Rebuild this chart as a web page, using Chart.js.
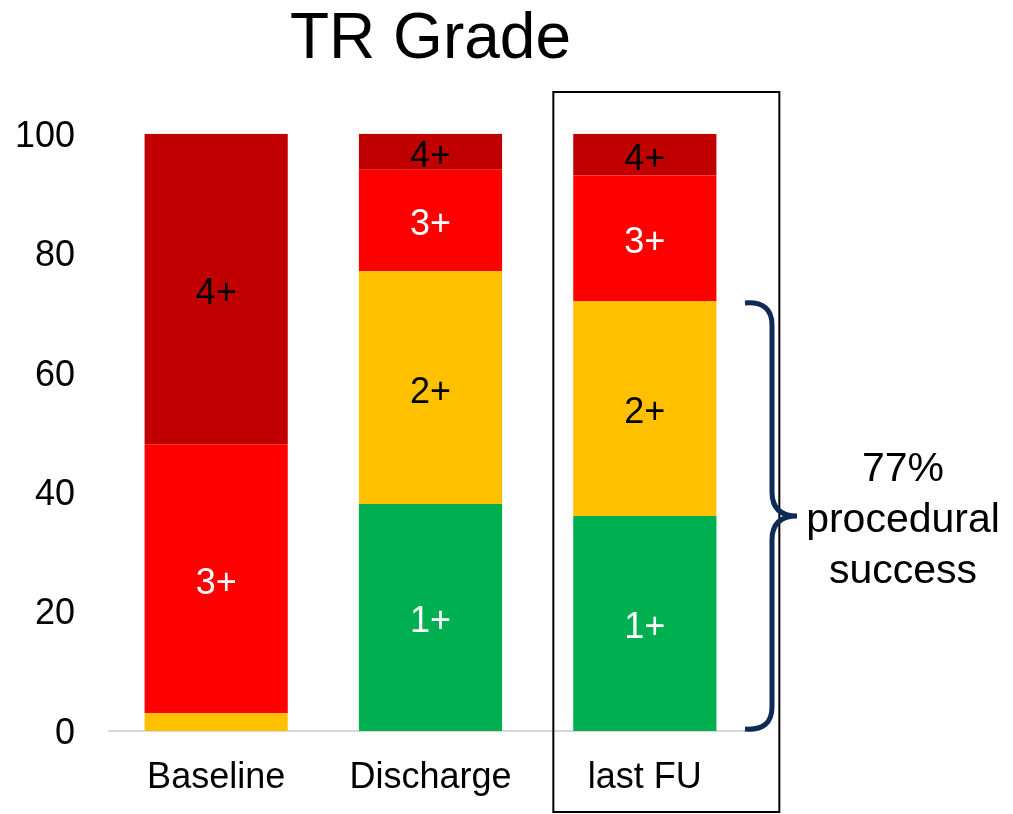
<!DOCTYPE html>
<html>
<head>
<meta charset="utf-8">
<script src="https://cdn.jsdelivr.net/npm/chart.js@4.4.0/dist/chart.umd.min.js"></script>
<style>
    html, body { margin: 0; padding: 0; background: #fff; }
    #wrap { width: 1013px; height: 814px; }
</style>
</head>
<body>
<div id="wrap"><canvas id="trChart"></canvas></div>
<script>
// Data
const categories = ['Baseline', 'Discharge', 'last FU'];
const grade1 = [0, 38, 36];
const grade2 = [3, 39, 36];
const grade3 = [45, 17, 21];
const grade4 = [52, 6, 7];
const gradeNames = ['1+', '2+', '3+', '4+'];
const yTicks = [0, 20, 40, 60, 80, 100];
const successText = ['77%', 'procedural', 'success'];
const successRange = [0, 72];

const FONT = '"Liberation Sans", Arial, sans-serif';
const colors = ['#00B050', '#FFC000', '#FF0000', '#C00000'];
const labelColors = ['#fff', '#000', '#fff', '#000'];

// draws segment labels, the box around last FU and the brace annotation
const extras = {
    id: 'extras',
    afterDatasetsDraw(chart) {
        const ctx = chart.ctx;
        const x = chart.scales.x, y = chart.scales.y;
        ctx.save();
        ctx.font = '36px ' + FONT;
        ctx.textAlign = 'center';
        ctx.textBaseline = 'middle';
        chart.data.datasets.forEach((ds, di) => {
            chart.getDatasetMeta(di).data.forEach((bar, i) => {
                if (ds.data[i] < 5) return;
                ctx.fillStyle = labelColors[di];
                ctx.fillText(gradeNames[di], bar.x, (bar.y + bar.base) / 2 + 5);
            });
        });

        // box around last FU
        const xc = x.getPixelForValue(2);
        ctx.strokeStyle = '#000';
        ctx.lineWidth = 2;
        ctx.strokeRect(xc - 91.5, 92, 226, 720);

        // brace
        const yTop = y.getPixelForValue(successRange[1]);
        const yBot = y.getPixelForValue(successRange[0]);
        const yMid = (yTop + yBot) / 2;
        const bx = 772, r = 24;
        ctx.strokeStyle = '#0E2A56';
        ctx.lineWidth = 5;
        ctx.beginPath();
        ctx.moveTo(bx - 27, yTop + 2);
        ctx.quadraticCurveTo(bx, yTop, bx, yTop + r);
        ctx.lineTo(bx, yMid - r);
        ctx.quadraticCurveTo(bx, yMid, bx + 25, yMid);
        ctx.quadraticCurveTo(bx, yMid, bx, yMid + r);
        ctx.lineTo(bx, yBot - r);
        ctx.quadraticCurveTo(bx, yBot, bx - 27, yBot - 2);
        ctx.stroke();

        ctx.fillStyle = '#000';
        ctx.font = '41px ' + FONT;
        successText.forEach((t, i) => ctx.fillText(t, 903, 470 + i * 51));
        ctx.restore();
    }
};

new Chart(document.getElementById('trChart'), {
    type: 'bar',
    data: {
        labels: categories,
        datasets: [grade1, grade2, grade3, grade4].map((d, i) => ({
            label: gradeNames[i],
            data: d,
            backgroundColor: colors[i],
            borderWidth: 0,
            barPercentage: 0.668,
            categoryPercentage: 1
        }))
    },
    options: {
        responsive: true,
        maintainAspectRatio: false,
        animation: false,
        layout: { padding: { left: 0, right: 261, top: 0, bottom: 0 } },
        plugins: {
            legend: { display: false },
            tooltip: { enabled: false },
            title: {
                display: true,
                text: 'TR Grade',
                fullSize: false,
                color: '#000',
                font: { family: FONT, size: 64, weight: 'normal' },
                padding: { top: 2, bottom: 55 }
            }
        },
        scales: {
            x: {
                stacked: true,
                grid: { display: false, drawTicks: false },
                border: { display: true, color: '#D9D9D9', width: 2 },
                ticks: { color: '#000', font: { family: FONT, size: 36 }, padding: 25 },
                afterFit: s => { s.height = 83; }
            },
            y: {
                stacked: true,
                min: 0,
                max: 100,
                grid: { display: false, drawTicks: false },
                border: { display: false },
                afterBuildTicks: s => { s.ticks = yTicks.map(v => ({ value: v })); },
                ticks: { color: '#000', font: { family: FONT, size: 36 }, padding: 34, labelOffset: 3 },
                afterFit: s => { s.width = 109; }
            }
        }
    },
    plugins: [extras]
});
</script>
</body>
</html>
